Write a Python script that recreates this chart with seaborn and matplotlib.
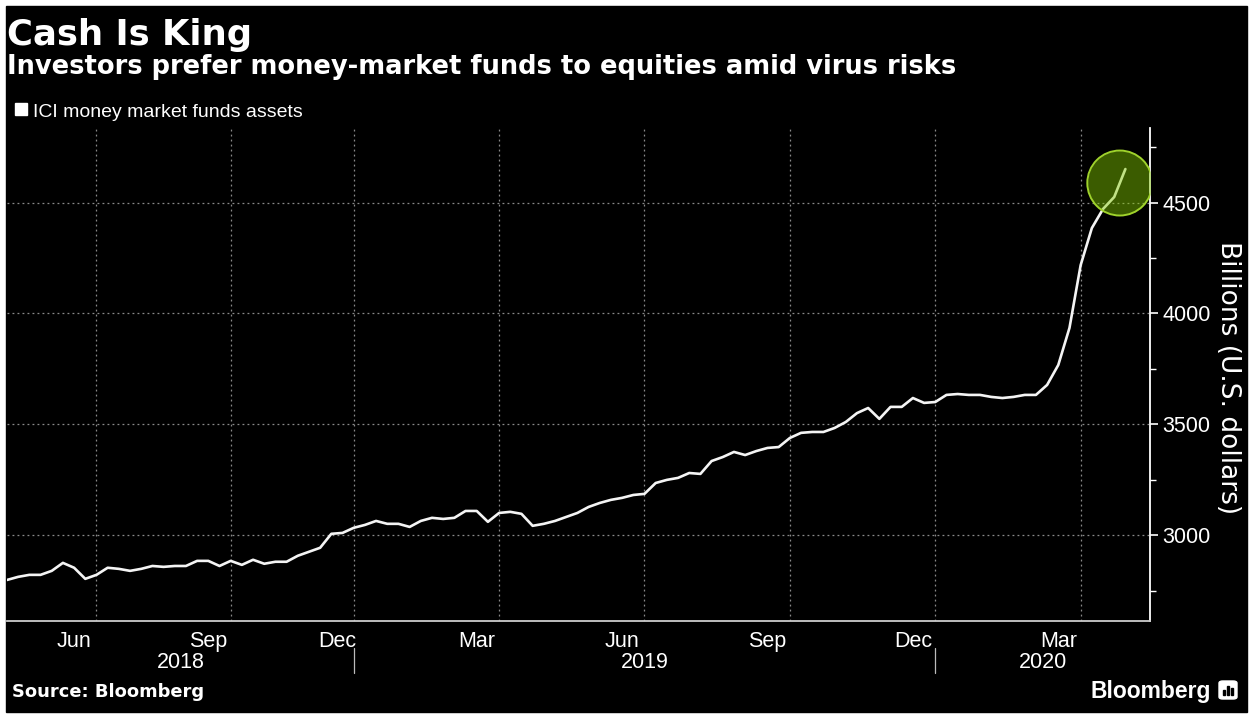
import numpy as np
import pandas as pd
import matplotlib.pyplot as plt
import seaborn as sns
from matplotlib.patches import Rectangle, FancyBboxPatch
import matplotlib.transforms as mtransforms

# ICI money market funds assets, weekly, billions of US$
assets = [2799, 2813, 2822, 2822, 2840, 2876, 2854, 2804, 2822, 2854,
          2849, 2840, 2849, 2862, 2858, 2862, 2862, 2885, 2885, 2862,
          2885, 2867, 2890, 2872, 2881, 2881, 2908, 2926, 2944, 3007,
          3011, 3034, 3047, 3065, 3052, 3052, 3038, 3065, 3079, 3074,
          3079, 3110, 3110, 3061, 3101, 3106, 3097, 3043, 3052, 3065,
          3083, 3101, 3128, 3146, 3160, 3169, 3182, 3187, 3236, 3250,
          3259, 3281, 3277, 3335, 3353, 3376, 3362, 3380, 3394, 3398,
          3439, 3462, 3466, 3466, 3484, 3511, 3551, 3574, 3525, 3579,
          3579, 3619, 3597, 3601, 3633, 3637, 3633, 3633, 3624, 3619,
          3624, 3633, 3633, 3678, 3768, 3935, 4218, 4385, 4471, 4525,
          4651]
# weekly observations (Wednesdays), a few holiday weeks missing
first_week = '2018-05-09'
last_axis_week = '2020-05-13'
missing_weeks = ['2018-07-04', '2018-11-21', '2018-12-26']
yticks_major = [3000, 3500, 4000, 4500]
yticks_minor = [2750, 3250, 3750, 4250, 4750]
month_names = {3: 'Mar', 6: 'Jun', 9: 'Sep', 12: 'Dec'}

title = 'Cash Is King'
subtitle = 'Investors prefer money-market funds to equities amid virus risks'
series_name = 'ICI money market funds assets'

weeks = pd.date_range(first_week, last_axis_week, freq='W-WED')
weeks = weeks.drop(pd.to_datetime(missing_weeks))
axis_df = pd.DataFrame({'date': weeks, 'pos': np.arange(len(weeks))})
df = axis_df.iloc[:len(assets)].copy()
df['assets'] = assets

W, H = 1258, 718
def fx(x):
    return x / W
def fy(y):
    return 1 - y / H

sns.set_style('dark', {'axes.facecolor': 'black', 'figure.facecolor': 'white'})
plt.rcParams['font.family'] = ['Liberation Sans', 'DejaVu Sans']

fig = plt.figure(figsize=(W / 100, H / 100), dpi=100, facecolor='white')
# black panel with a thin white border, as in the screenshot
fig.patches.append(Rectangle((fx(6), fy(712)), fx(1247 - 6), (712 - 6) / H,
                             color='black', transform=fig.transFigure,
                             zorder=-10))
ax = fig.add_axes([fx(7), fy(621), fx(1150 - 7), (621 - 128) / H])
ax.set_facecolor('black')

sns.lineplot(data=df, x='pos', y='assets', ax=ax, color='#f4f4f4', linewidth=1.9)

ax.set_xlim(0, 102.2)
ax.set_ylim(2614, 4836)

# month starts on the index axis
axis_df['month'] = axis_df['date'].dt.to_period('M')
starts = axis_df.groupby('month')['pos'].min().iloc[1:]
starts = starts[starts <= 102.2]
ax.set_xticks(list(starts.values), minor=True)
lab_pos, lab_txt = [], []
for i, (per, p) in enumerate(starts.items()):
    if per.month in month_names and i + 1 < len(starts):
        lab_pos.append((p + starts.iloc[i + 1]) / 2)
        lab_txt.append(month_names[per.month])
    if per.month in (1, 4, 7, 10):
        ax.axvline(p, color='#8a8a8a', lw=0.9, ls=(0, (1.5, 2.5)), zorder=1)
ax.set_xticks(lab_pos)
ax.set_xticklabels(lab_txt)

# years below the months
trans = mtransforms.blended_transform_factory(ax.transData, ax.transAxes)
jan = [p for per, p in starts.items() if per.month == 1]
edges = [0] + jan + [102.2]
for k, yr in enumerate(['2018', '2019', '2020']):
    ax.text((edges[k] + edges[k + 1]) / 2, -0.095, yr, transform=trans,
            ha='center', va='baseline', color='white', fontsize=15.5)
for p in jan:
    ax.plot([p, p], [-0.055, -0.105], transform=trans, color='#bbbbbb',
            lw=0.9, clip_on=False)

ax.set_yticks(yticks_major)
ax.set_yticks(yticks_minor, minor=True)
for y in yticks_major:
    ax.axhline(y, color='#8a8a8a', lw=0.9, ls=(0, (1.5, 2.5)), zorder=1)
ax.grid(False)
ax.yaxis.tick_right()
ax.tick_params(axis='y', which='major', colors='white', labelsize=15.5,
               length=6, width=1.2, pad=3, direction='out')
ax.tick_params(axis='y', which='minor', colors='white', length=4, width=1,
               direction='out')
ax.tick_params(axis='x', which='major', colors='white', labelsize=15.5,
               length=0, pad=7)
ax.tick_params(axis='x', which='minor', colors='#cccccc', length=5, width=1,
               direction='out')
ax.set_xlabel('')
ax.set_ylabel('')
for s in ['left', 'top']:
    ax.spines[s].set_visible(False)
ax.spines['right'].set_color('white')
ax.spines['right'].set_linewidth(1.3)
ax.spines['bottom'].set_color('#cccccc')
ax.spines['bottom'].set_linewidth(1.3)

# highlight circle on the latest readings
cx = df['pos'].iloc[-2:].mean()
cy = df['assets'].iloc[-2:].mean()
ax.scatter([cx], [cy], s=2190, color='#84cd00', alpha=0.45, lw=0, zorder=4)
ax.scatter([cx], [cy], s=2190, facecolors='none', edgecolors='#9fd22c',
           lw=1.4, zorder=5)

# titles, legend, labels
fig.text(fx(7), fy(45), title, color='white', fontsize=25.5, fontweight='bold',
         family='DejaVu Sans', va='baseline')
fig.text(fx(7), fy(74), subtitle, color='white', fontsize=18.5,
         fontweight='bold', family='DejaVu Sans', va='baseline')
fig.patches.append(Rectangle((fx(15), fy(115)), fx(12), 12 / H, color='white',
                             transform=fig.transFigure))
fig.text(fx(33), fy(117), series_name, color='white', fontsize=14,
         va='baseline')
fig.text(fx(1228), fy(378), 'Billions (U.S. dollars)', color='white',
         fontsize=19, family='DejaVu Sans', rotation=270, ha='center',
         va='center')
fig.text(fx(12), fy(697), 'Source: Bloomberg', color='white', fontsize=12.9,
         fontweight='bold', family='DejaVu Sans', va='baseline')
fig.text(fx(1211), fy(698), 'Bloomberg', color='white', fontsize=16.5,
         fontweight='bold', ha='right', va='baseline')
fig.patches.append(FancyBboxPatch((fx(1219), fy(699)), fx(18), 18 / H,
                                  boxstyle='round,pad=0,rounding_size=0.003',
                                  color='white', transform=fig.transFigure))
for k, h in enumerate([5, 9, 7]):
    fig.patches.append(Rectangle((fx(1223 + 4 * k), fy(695)), fx(2), h / H,
                                 color='black', transform=fig.transFigure))

fig.savefig('out.png', dpi=100, facecolor='white')
